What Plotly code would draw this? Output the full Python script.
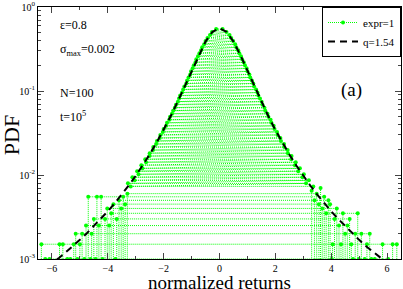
import plotly.graph_objects as go

# ---------------- data ----------------
# q-Gaussian fit (q=1.54)
fit_x = [-6.5, -6.25, -6.0, -5.75, -5.5, -5.25, -5.0, -4.75, -4.5, -4.25, -4.0, -3.75, -3.5,
         -3.25, -3.0, -2.75, -2.5, -2.25, -2.0, -1.75, -1.5, -1.25, -1.0, -0.75, -0.5, -0.25,
         0.0, 0.25, 0.5, 0.75, 1.0, 1.25, 1.5, 1.75, 2.0, 2.25, 2.5, 2.75, 3.0, 3.25, 3.5,
         3.75, 4.0, 4.25, 4.5, 4.75, 5.0, 5.25, 5.5, 5.75, 6.0, 6.25, 6.5]
fit_y = [0.000662, 0.000763, 0.000884, 0.00103, 0.00121, 0.00142, 0.00169, 0.00203, 0.00246,
         0.0030, 0.0037, 0.00462, 0.00585, 0.0075, 0.00978, 0.01299, 0.01758, 0.02432, 0.0344,
         0.0500, 0.0744, 0.1132, 0.1745, 0.2664, 0.3879, 0.5073,
         0.56, 0.5073, 0.3879, 0.2664, 0.1745, 0.1132, 0.0744, 0.0500, 0.0344, 0.02432,
         0.01758, 0.01299, 0.00978, 0.0075, 0.00585, 0.00462, 0.0037, 0.0030, 0.00246,
         0.00203, 0.00169, 0.00142, 0.00121, 0.00103, 0.000884, 0.000763, 0.000662]

# empirical PDF (expr=1), central part: levels with left / right positions
core_y = [0.547, 0.5035, 0.4634, 0.4265, 0.3926, 0.3613, 0.3326, 0.3061, 0.2817, 0.2593,
          0.2387, 0.2197, 0.2022, 0.1861, 0.1713, 0.1577, 0.1451, 0.1336, 0.1229, 0.1131,
          0.1041, 0.0958, 0.0882, 0.0812, 0.0747, 0.0688, 0.0633, 0.0583, 0.0536, 0.0494,
          0.0454, 0.0418, 0.0385, 0.0354, 0.0326, 0.0300, 0.0276, 0.0254, 0.0234, 0.0215,
          0.0198, 0.0182, 0.0168, 0.0154, 0.0142, 0.0131, 0.0120, 0.0111, 0.0102, 0.0094,
          0.00864, 0.00795, 0.00732]
core_xl = [-0.12, -0.27, -0.34, -0.43, -0.50, -0.55, -0.62, -0.66, -0.72, -0.77,
           -0.83, -0.86, -0.92, -0.96, -1.02, -1.05, -1.11, -1.16, -1.19, -1.26,
           -1.30, -1.34, -1.41, -1.45, -1.49, -1.56, -1.60, -1.66, -1.70, -1.77,
           -1.80, -1.88, -1.91, -2.00, -2.03, -2.12, -2.14, -2.24, -2.27, -2.37,
           -2.38, -2.50, -2.51, -2.66, -2.63, -2.80, -2.76, -2.95, -2.90, -3.12,
           -3.04, -3.28, -3.18]
core_xr = [0.11, 0.25, 0.36, 0.42, 0.49, 0.56, 0.60, 0.67, 0.71, 0.77,
           0.81, 0.87, 0.91, 0.97, 1.00, 1.07, 1.10, 1.16, 1.21, 1.24,
           1.31, 1.36, 1.39, 1.45, 1.51, 1.54, 1.61, 1.64, 1.72, 1.75,
           1.83, 1.86, 1.94, 1.97, 2.06, 2.08, 2.18, 2.20, 2.31, 2.32,
           2.44, 2.45, 2.58, 2.57, 2.73, 2.70, 2.88, 2.82, 3.02, 2.97,
           3.20, 3.10, 3.36]

# tails (left and right), noisy low counts
tail_xl = [-3.30, -3.38, -3.45, -3.52, -3.60, -3.68, -3.73, -3.80, -3.88, -3.95,
           -4.02, -4.10, -4.19, -4.24, -4.32, -4.39, -4.44, -4.50, -4.58, -4.62,
           -4.70, -4.78, -4.84, -4.92, -5.00, -5.09, -5.15, -5.22, -5.34, -5.45,
           -5.61, -5.73, -6.09, -6.24, -6.38]
tail_yl = [0.0060, 0.0045, 0.0055, 0.0040, 0.0050, 0.0030, 0.0010, 0.0045, 0.0035, 0.0025,
           0.0040, 0.0030, 0.0010, 0.0055, 0.0025, 0.0055, 0.0010, 0.0030, 0.0020, 0.0010,
           0.0055, 0.0025, 0.0010, 0.0020, 0.0015, 0.0010, 0.0020, 0.0015, 0.0010, 0.0010,
           0.0015, 0.0015, 0.0010, 0.0010, 0.0015]
tail_xr = [3.30, 3.40, 3.48, 3.56, 3.62, 3.68, 3.75, 3.82, 3.90, 3.96,
           4.02, 4.05, 4.12, 4.20, 4.28, 4.35, 4.42, 4.50, 4.58, 4.66,
           4.72, 4.78, 4.86, 4.95, 4.99, 5.08, 5.20, 5.28, 5.38, 5.44,
           5.56, 5.84, 6.04, 6.20, 6.35]
tail_yr = [0.0065, 0.0050, 0.0060, 0.0045, 0.0070, 0.0040, 0.0055, 0.0035, 0.0050, 0.0045,
           0.0010, 0.0015, 0.0030, 0.0040, 0.0025, 0.0015, 0.0035, 0.0020, 0.0025, 0.0030,
           0.0015, 0.0010, 0.0020, 0.0035, 0.0010, 0.0020, 0.0010, 0.0015, 0.0020, 0.0010,
           0.0010, 0.0015, 0.0010, 0.0015, 0.0015]
drop_floor = 0.0004

x_ticks = [-6, -4, -2, 0, 2, 4, 6]
y_ticks = [0.001, 0.01, 0.1, 1]
y_ticktext = ["10<sup>-3</sup>", "10<sup>-2</sup>", "10<sup>-1</sup>", "10<sup>0</sup>"]

# ---------------- build sequences ----------------
# central part: alternate left / right at each level
seq_x, seq_y = [], []
for xl, xr, y in zip(core_xl, core_xr, core_y):
    seq_x += [xl, xr]
    seq_y += [y, y]
seq_x.append(None)
seq_y.append(None)
# tails: one horizontal run per count level
tail_pts = list(zip(tail_xl, tail_yl)) + list(zip(tail_xr, tail_yr))
for lev in sorted(set(tail_yl + tail_yr), reverse=True):
    pts = sorted(p for p in tail_pts if p[1] == lev)
    seq_x += [p[0] for p in pts] + [None]
    seq_y += [p[1] for p in pts] + [None]

drop_x, drop_y = [], []
for x, y in tail_pts:
    drop_x += [x, x, None]
    drop_y += [y, drop_floor, None]

GREEN = "#00ff00"
SERIF = "Liberation Serif"

fig = go.Figure()
fig.add_trace(go.Scatter(x=drop_x, y=drop_y, mode="lines", showlegend=False,
                         line=dict(color=GREEN, width=1, dash="1px,1px"), hoverinfo="skip"))
fig.add_trace(go.Scatter(x=seq_x, y=seq_y, mode="lines+markers", name="expr=1",
                         connectgaps=False,
                         line=dict(color=GREEN, width=1, dash="1px,1px"),
                         marker=dict(color=GREEN, size=4, symbol="circle")))
fig.add_trace(go.Scatter(x=fit_x, y=fit_y, mode="lines", name="q=1.54",
                         line=dict(color="black", width=2, dash="7px,5px")))

minor_y = [m * 10.0 ** e for e in (-3, -2, -1) for m in range(2, 10)]

fig.update_layout(
    width=403, height=289,
    margin=dict(l=38, r=2, t=7, b=30),
    paper_bgcolor="white", plot_bgcolor="white",
    font=dict(family=SERIF, color="black"),
    showlegend=True,
    legend=dict(x=1, y=1, xanchor="right", yanchor="top", bgcolor="white",
                bordercolor="black", borderwidth=1, font=dict(family=SERIF, size=11),
                itemwidth=30, tracegroupgap=0),
    xaxis=dict(range=[-6.5, 6.5], tickvals=x_ticks, ticks="inside", ticklen=6,
               showline=True, linecolor="black", linewidth=1, mirror="ticks",
               showgrid=False, zeroline=False, tickfont=dict(family=SERIF, size=10),
               automargin=False,
               minor=dict(ticks="inside", ticklen=3, dtick=1, tick0=1, showgrid=False)),
    yaxis=dict(type="log", range=[-3, 0], tickvals=y_ticks, ticktext=y_ticktext,
               ticks="inside", ticklen=6, showline=True, linecolor="black", linewidth=1,
               mirror="ticks", showgrid=False, zeroline=False, automargin=False,
               tickfont=dict(family=SERIF, size=10),
               minor=dict(ticks="inside", ticklen=3, tickvals=minor_y, showgrid=False)),
    annotations=[
        dict(text="ε=0.8", x=0.055, y=0.929, xref="paper", yref="paper", xanchor="left",
             yanchor="middle", showarrow=False, font=dict(family=SERIF, size=12)),
        dict(text="σ<sub>max</sub>=0.002", x=0.055, y=0.829, xref="paper", yref="paper",
             xanchor="left", yanchor="middle", showarrow=False, font=dict(family=SERIF, size=12)),
        dict(text="N=100", x=0.055, y=0.659, xref="paper", yref="paper", xanchor="left",
             yanchor="middle", showarrow=False, font=dict(family=SERIF, size=12)),
        dict(text="t=10<sup>5</sup>", x=0.055, y=0.567, xref="paper", yref="paper",
             xanchor="left", yanchor="middle", showarrow=False, font=dict(family=SERIF, size=12)),
        dict(text="(a)", x=0.865, y=0.671, xref="paper", yref="paper", xanchor="center",
             yanchor="middle", showarrow=False, font=dict(family=SERIF, size=19)),
        dict(text="normalized returns", x=0.501, y=-0.094, xref="paper", yref="paper",
             xanchor="center", yanchor="middle", showarrow=False,
             font=dict(family=SERIF, size=19)),
        dict(text="PDF", x=-0.074, y=0.492, xref="paper", yref="paper", textangle=-90,
             xanchor="center", yanchor="middle", showarrow=False,
             font=dict(family=SERIF, size=22)),
    ],
)

fig.write_html("out.html", config={"displayModeBar": False},
               post_script="document.body.style.margin='0';")
